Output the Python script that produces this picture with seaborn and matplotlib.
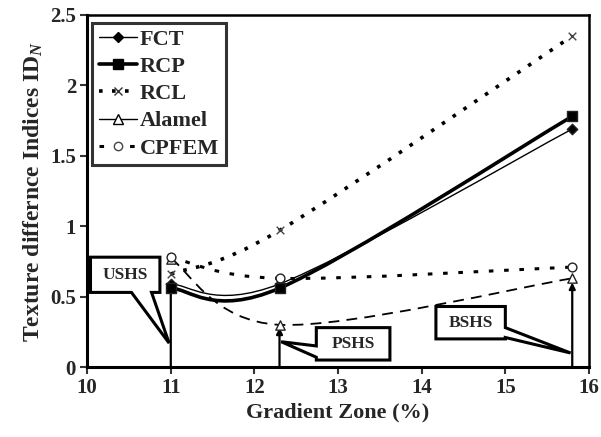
import numpy as np
import pandas as pd
import seaborn as sns
import matplotlib
matplotlib.use("Agg")
import matplotlib.pyplot as plt
from matplotlib.path import Path
from matplotlib.patches import PathPatch, Polygon
from matplotlib.lines import Line2D
from matplotlib.ticker import FormatStrFormatter

# data
zones = [11.0, 12.3, 15.8]
fct = [0.59, 0.59, 1.69]
rcp = [0.56, 0.56, 1.78]
rcl = [0.66, 0.97, 2.35]
alamel = [0.77, 0.30, 0.63]
cpfem = [0.78, 0.63, 0.71]
series_names = ["FCT", "RCP", "RCL", "Alamel", "CPFEM"]
series_values = [fct, rcp, rcl, alamel, cpfem]

# callouts: label, box (x0, x1, y0, y1), wedge side, wedge base, wedge tip
callout_labels = ["USHS", "PSHS", "BSHS"]
callout_boxes = [(10.04, 10.87, 0.53, 0.78), (12.74, 13.62, 0.05, 0.28), (14.17, 15.0, 0.20, 0.43)]
callout_sides = ["bottom", "left", "right"]
callout_bases = [(10.53, 10.77), (0.07, 0.15), (0.21, 0.28)]
callout_tips = [(10.98, 0.17), (12.32, 0.18), (15.78, 0.10)]

stem_zones = [11.0, 12.3, 15.8]
stem_tops = [0.57, 0.28, 0.60]

x_ticks = [10, 11, 12, 13, 14, 15, 16]
y_ticks = [0, 0.5, 1, 1.5, 2, 2.5]

sns.set_style("white")
plt.rcParams["font.family"] = ["Liberation Serif", "DejaVu Serif"]
plt.rcParams["font.weight"] = "bold"
plt.rcParams["mathtext.fontset"] = "custom"
plt.rcParams["mathtext.rm"] = "Liberation Serif:bold"
plt.rcParams["mathtext.it"] = "Liberation Serif:italic:bold"

styles = {
    "FCT": dict(lw=1.0, ls="-", color="black"),
    "RCP": dict(lw=2.6, ls="-", color="black"),
    "RCL": dict(lw=2.6, ls=(0, (1.0, 2.6)), color="black"),
    "Alamel": dict(lw=1.3, ls=(0, (6, 4)), color="black"),
    "CPFEM": dict(lw=2.2, ls=(0, (1.5, 3.5)), color="black"),
}


def smooth_path(xs, ys):
    # Excel-like smoothed line through the points, as cubic bezier segments
    pts = np.column_stack([xs, ys])
    n = len(pts)
    verts = [pts[0]]
    codes = [Path.MOVETO]
    for i in range(n - 1):
        pm = pts[max(i - 1, 0)]
        pp = pts[min(i + 2, n - 1)]
        c1 = pts[i] + (pts[i + 1] - pm) / 6.0
        c2 = pts[i + 1] - (pp - pts[i]) / 6.0
        verts += [c1, c2, pts[i + 1]]
        codes += [Path.CURVE4] * 3
    return Path(verts, codes)


def callout_shape(box, side, base, tip):
    x0, x1, y0, y1 = box
    if side == "bottom":
        return [(x0, y1), (x1, y1), (x1, y0), (base[1], y0), tip, (base[0], y0), (x0, y0)]
    if side == "left":
        return [(x0, y1), (x1, y1), (x1, y0), (x0, y0), (x0, base[0]), tip, (x0, base[1])]
    return [(x0, y1), (x1, y1), (x1, base[1]), tip, (x1, base[0]), (x1, y0), (x0, y0)]


fig = plt.figure(figsize=(6.01, 4.37), dpi=100)
ax = fig.add_axes([0.145, 0.160, 0.835, 0.806])

for name, vals in zip(series_names, series_values):
    st = styles[name]
    ax.add_patch(PathPatch(smooth_path(zones, vals), fill=False,
                           edgecolor=st["color"], lw=st["lw"],
                           linestyle=st["ls"], capstyle="butt", zorder=3))

df = pd.DataFrame({
    "zone": np.tile(zones, len(series_names)),
    "value": np.concatenate(series_values),
    "series": np.repeat(series_names, len(zones)),
})
marker_map = {"FCT": "D", "RCP": "s", "RCL": "x", "Alamel": "^", "CPFEM": "o"}
face = {"FCT": "black", "RCP": "black", "RCL": "#555555", "Alamel": "white", "CPFEM": "white"}
size = {"FCT": 28, "RCP": 55, "RCL": 30, "Alamel": 45, "CPFEM": 40}
for name in series_names:
    sub = df[df["series"] == name]
    if name == "RCL":
        sns.scatterplot(data=sub, x="zone", y="value", marker="x", s=size[name],
                        color="#444444", linewidth=1.0, ax=ax, zorder=5, legend=False)
    else:
        sns.scatterplot(data=sub, x="zone", y="value", marker=marker_map[name],
                        s=size[name], facecolor=face[name], edgecolor="#222222",
                        linewidth=1.0, ax=ax, zorder=5, legend=False)

# vertical stems from the axis up to the points
for i, (xz, top) in enumerate(zip(stem_zones, stem_tops)):
    ax.annotate("", xy=(xz, top), xytext=(xz, 0),
                arrowprops=dict(arrowstyle="-|>" if i else "-", color="black",
                                lw=1.6, mutation_scale=9, shrinkA=0, shrinkB=0),
                zorder=4)

# callout boxes with wedge pointers
for lab, box, side, base, tip in zip(callout_labels, callout_boxes, callout_sides,
                                     callout_bases, callout_tips):
    ax.add_patch(Polygon(callout_shape(box, side, base, tip), closed=True, fc="white",
                         ec="black", lw=2.2, joinstyle="miter", zorder=6))
    ax.text((box[0] + box[1]) / 2, (box[2] + box[3]) / 2, lab, ha="center",
            va="center", fontsize=12.5, fontweight="bold", zorder=7)

ax.set_xlim(10, 16)
ax.set_ylim(0, 2.5)
ax.set_xticks(x_ticks)
ax.set_yticks(y_ticks)
ax.yaxis.set_major_formatter(FormatStrFormatter("%g"))
ax.tick_params(axis="both", direction="out", length=5, width=1.5, labelsize=15,
               left=True, bottom=True, pad=3, color="#333333")
for lbl in ax.get_xticklabels() + ax.get_yticklabels():
    lbl.set_fontweight("bold")
for side in ["left", "bottom"]:
    ax.spines[side].set_linewidth(2.2)
for side in ["top", "right"]:
    ax.spines[side].set_linewidth(1.8)
for sp in ax.spines.values():
    sp.set_color("black")

ax.set_xlabel("Gradient Zone (%)", fontsize=16, fontweight="bold", labelpad=3)
ax.set_ylabel("Texture differnce Indices ID$_N$", fontsize=17, fontweight="bold", labelpad=4)

handles = [
    Line2D([], [], color="black", lw=1.0, marker="D", ms=5, mfc="black"),
    Line2D([], [], color="black", lw=2.6, marker="s", ms=7, mfc="black"),
    Line2D([], [], color="black", lw=2.6, ls=(0, (1.0, 2.6)), marker="x", ms=6, mec="#333333"),
    Line2D([], [], color="black", lw=1.0, marker="^", ms=7, mfc="white"),
    Line2D([], [], color="black", lw=2.2, ls=(0, (1.5, 3.5)), marker="o", ms=6, mfc="white", mec="#444444"),
]
leg = ax.legend(handles, series_names, loc="upper left", bbox_to_anchor=(0.01, 0.978),
                fontsize=16, frameon=True, fancybox=False, handlelength=1.7,
                handletextpad=0.15, labelspacing=0.3, borderpad=0.3, borderaxespad=0)
leg.get_frame().set_edgecolor("black")
leg.get_frame().set_linewidth(2.2)
for t in leg.get_texts():
    t.set_fontweight("bold")

plt.savefig("out.png", dpi=100)
plt.close()
